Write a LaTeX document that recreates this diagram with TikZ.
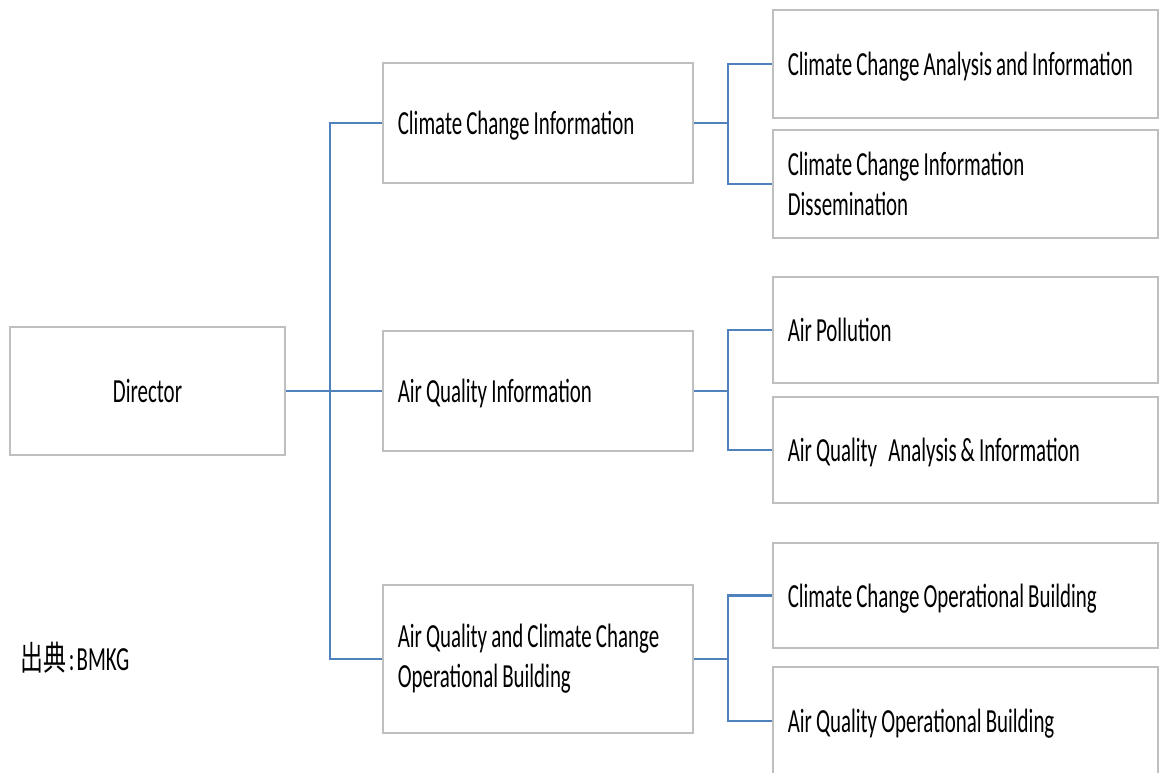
\documentclass[tikz,border=0pt]{standalone}
\usepackage{fontspec}
\setmainfont[FakeStretch=0.62]{Carlito}
\newfontfamily\cjk[FakeStretch=0.68]{Noto Sans CJK JP}
\definecolor{boxgray}{HTML}{BFBFBF}
\definecolor{linkblue}{HTML}{4F81BD}
\newcommand\boxfont{\fontsize{24}{28.5}\selectfont}

\begin{document}
\begin{tikzpicture}[x=0.025cm, y=-0.025cm,
		font=\boxfont,
		every node/.style={execute at begin node={\spaceskip=2.9pt plus 1pt minus 0.5pt\relax}},
		unit/.style={rectangle, draw=boxgray, line width=1.4pt, inner xsep=0.37cm, inner ysep=0pt},
		oneline/.style={text depth=0pt},
		midunit/.style={unit, minimum width=7.75cm, text width=7.01cm, align=flush left},
		subunit/.style={unit, minimum width=9.625cm, text width=8.885cm, minimum height=2.7cm, align=flush left},
		link/.style={draw=linkblue, line width=2pt}]
			\useasboundingbox (0, 0) rectangle (1160, 772);
			\clip (0, 0) rectangle (1160, 772);
			% director
			\draw (147.5, 391) node [unit, oneline, minimum width=6.875cm, minimum height=3.2cm, align=center] (dir) {Director};
			% middle level
			\draw (538, 123) node [midunit, oneline, minimum height=3cm] (cci) {Climate Change Information};
			\draw (538, 391) node [midunit, oneline, minimum height=3cm] (aqi) {Air Quality Information};
			\draw (538, 659) node [midunit, minimum height=3.7cm] (aqcc) {Air Quality and Climate Change\\Operational Building};
			% right level
			\draw (965.5, 64) node [subunit, oneline] (ccai) {Climate Change Analysis and Information};
			\draw (965.5, 184) node [subunit] (ccid) {Climate Change Information\\Dissemination};
			\draw (965.5, 330) node [subunit, oneline, minimum height=2.65cm] (ap) {Air Pollution};
			\draw (965.5, 450) node [subunit, oneline, minimum height=2.65cm] (aqai) {Air Quality\hspace{5pt} Analysis \& Information};
			\draw (965.5, 595.5) node [subunit, oneline, minimum height=2.625cm] (ccob) {Climate Change Operational Building};
			\draw (965.5, 721) node [subunit, oneline] (aqob) {Air Quality Operational Building};
			% source
			\draw (20, 658) node [anchor=west, inner sep=0pt] (src) {{\cjk 出典}\kern2pt:\kern1.5pt BMKG};
			% connectors
			\coordinate (bus) at (330, 0);
			\coordinate (fork) at (728, 0);
			\path [link] (dir.east) -- (aqi.west);
			\path [link] (cci.west) -- (cci.west -| bus) |- (aqcc.west);
			\path [link] (cci.east) -- (cci.east -| fork);
			\path [link] (ccai.west) -| (cci.east -| fork) |- (ccid.west);
			\path [link] (aqi.east) -- (aqi.east -| fork);
			\path [link] (ap.west) -| (aqi.east -| fork) |- (aqai.west);
			\path [link] (aqcc.east) -- (aqcc.east -| fork);
			\path [link] (ccob.west) -| (aqcc.east -| fork) |- (aqob.west);
		\end{tikzpicture}
\end{document}
